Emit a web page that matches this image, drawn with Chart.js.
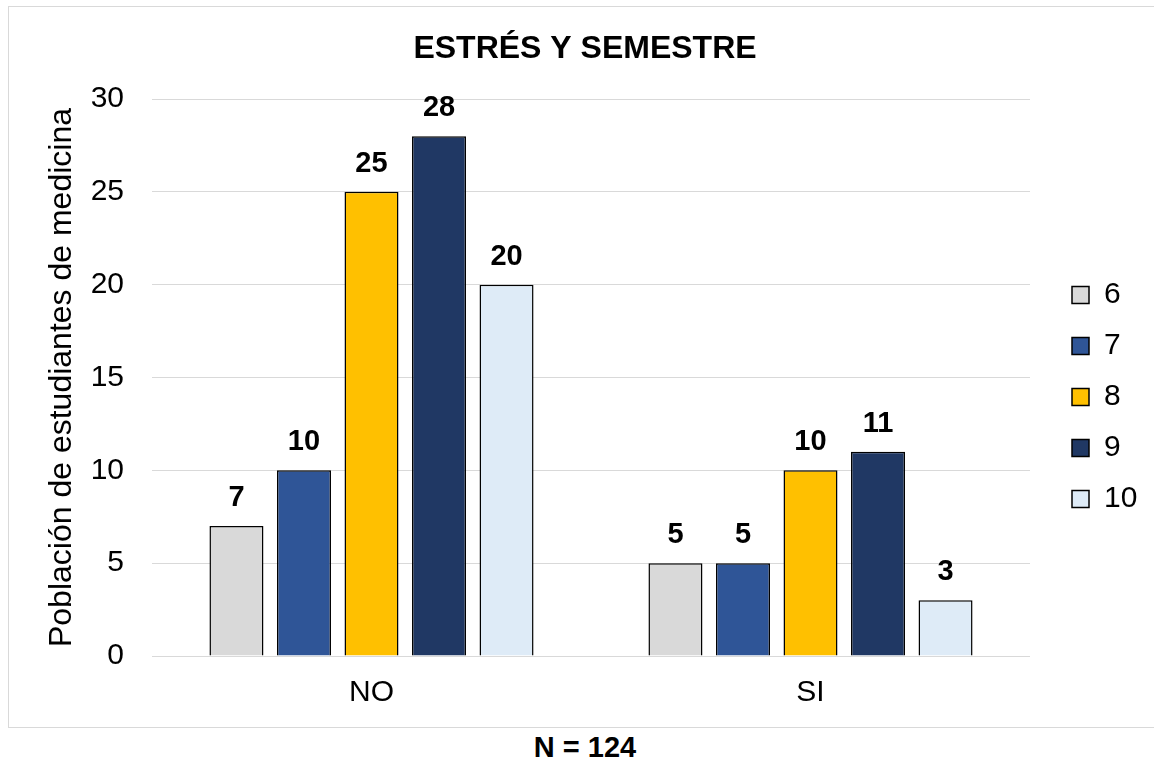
<!DOCTYPE html>
<html lang="es">
<head>
<meta charset="utf-8">
<title>Estrés y semestre</title>
<script src="https://cdn.jsdelivr.net/npm/chart.js@4/dist/chart.umd.min.js"></script>
<style>
  html, body { margin: 0; padding: 0; background: #fff; overflow: hidden; }
  #frame {
    position: absolute; left: 8px; top: 6px;
    width: 1150px; height: 720px;
    border: 1px solid #d9d9d9; background: #fff;
  }
  #frame canvas { display: block; }
  #note {
    position: absolute; left: 0; top: 733px; width: 1170px;
    text-align: center; font: bold 29px/29px "Liberation Sans", Arial, sans-serif; color: #000;
  }
</style>
</head>
<body>
<div id="frame"><canvas id="chart" width="1150" height="720"></canvas></div>
<div id="note">N = 124</div>
<script>
// Respuestas (NO / SI) agrupadas por semestre
const categories = ['NO', 'SI'];
const semestres = ['6', '7', '8', '9', '10'];
const sem6 = [7, 5];
const sem7 = [10, 5];
const sem8 = [25, 10];
const sem9 = [28, 11];
const sem10 = [20, 3];
const yMin = 0, yMax = 30, yStep = 5;

const seriesValues = [sem6, sem7, sem8, sem9, sem10];
const seriesColors = ['#D9D9D9', '#2F5597', '#FFC000', '#203864', '#DEEBF7'];

const FONT = '"Liberation Sans", Arial, sans-serif';
const LEGEND_W = 110;

// Bold value written above each bar
const valueLabels = {
  id: 'valueLabels',
  afterDatasetsDraw(chart) {
    const ctx = chart.ctx;
    ctx.save();
    ctx.font = 'bold 29px ' + FONT;
    ctx.fillStyle = '#000';
    ctx.textAlign = 'center';
    ctx.textBaseline = 'alphabetic';
    chart.data.datasets.forEach((ds, i) => {
      chart.getDatasetMeta(i).data.forEach((bar, j) => {
        ctx.fillText(String(ds.data[j]), bar.x, bar.y - 20);
      });
    });
    ctx.restore();
  }
};

// Legend column sits to the right of the plot, a bit below its top
const legendPlacement = {
  id: 'legendPlacement',
  beforeLayout(chart) {
    const lg = chart.legend;
    if (lg && !lg.__fixedWidth) {
      const fit = lg.fit;
      lg.fit = function () { fit.call(this); this.width = LEGEND_W; };
      lg.__fixedWidth = true;
    }
  },
  afterLayout(chart) {
    const lg = chart.legend;
    const area = chart.chartArea;
    lg.left = area.right + 21;
    lg.right = lg.left + lg.width;
    lg.top = area.top + 160;
    lg.bottom = lg.top + 320;
  }
};

new Chart(document.getElementById('chart'), {
  type: 'bar',
  data: {
    labels: categories,
    datasets: semestres.map((s, i) => ({
      label: s,
      data: seriesValues[i],
      backgroundColor: seriesColors[i],
      borderColor: '#000',
      borderWidth: 1.5,
      categoryPercentage: 0.769,
      barPercentage: 0.8
    }))
  },
  options: {
    responsive: false,
    animation: false,
    events: [],
    layout: { padding: { left: 21, right: 19, top: 0, bottom: 11 } },
    plugins: {
      title: {
        display: true,
        text: 'ESTRÉS Y SEMESTRE',
        color: '#000',
        font: { family: FONT, size: 32, weight: 'bold' },
        padding: { top: 23, bottom: 30.6 }
      },
      legend: {
        display: true,
        position: 'right',
        align: 'start',
        labels: {
          color: '#000',
          font: { family: FONT, size: 30 },
          boxWidth: 17,
          boxHeight: 17,
          padding: 21
        }
      },
      tooltip: { enabled: false }
    },
    scales: {
      x: {
        grid: { display: false },
        border: { display: false },
        ticks: { color: '#000', font: { family: FONT, size: 30 }, padding: 11 },
        afterFit(scale) { scale.height = 60; }
      },
      y: {
        min: yMin,
        max: yMax,
        ticks: { stepSize: yStep, color: '#000', font: { family: FONT, size: 30 }, padding: 28 },
        grid: { color: '#d9d9d9', lineWidth: 1, drawTicks: false },
        border: { display: false },
        title: {
          display: true,
          text: 'Población de estudiantes de medicina',
          color: '#000',
          font: { family: FONT, size: 32 },
          padding: { top: 13, bottom: 0 }
        },
        afterFit(scale) { scale.width = 122; }
      }
    }
  },
  plugins: [valueLabels, legendPlacement]
});
</script>
</body>
</html>
